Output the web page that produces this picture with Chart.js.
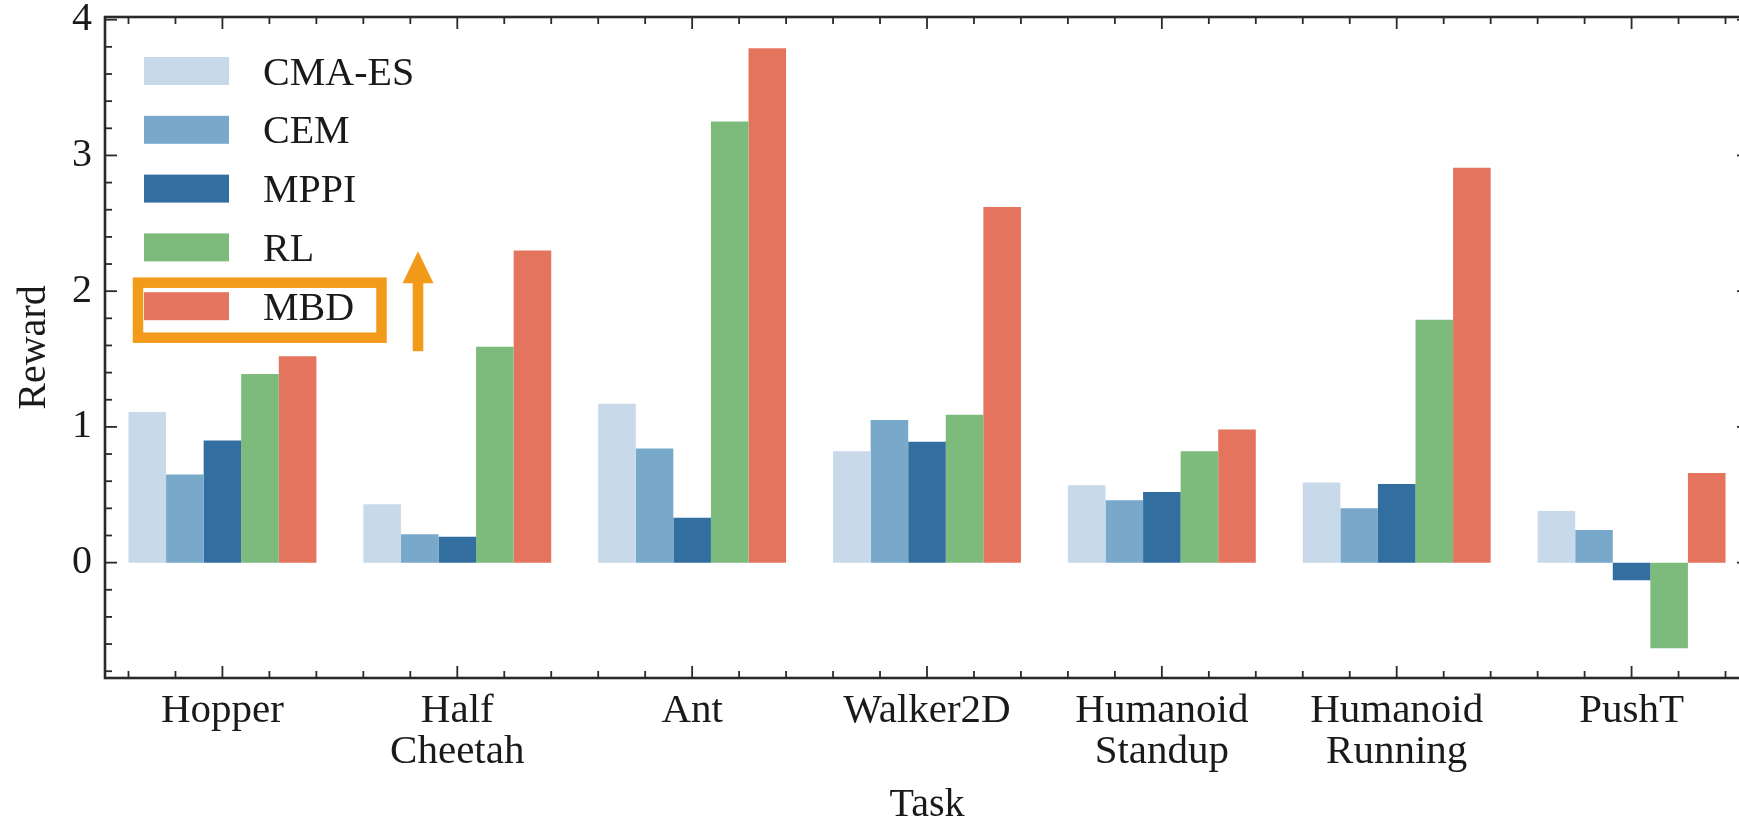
<!DOCTYPE html>
<html>
<head>
<meta charset="utf-8">
<script src="https://cdn.jsdelivr.net/npm/chart.js@4.4.1/dist/chart.umd.min.js"></script>
<style>
  html, body { margin: 0; padding: 0; background: #ffffff; overflow: hidden; }
  #wrap { position: relative; width: 1760px; height: 825px; }
</style>
</head>
<body>
<div id="wrap"><canvas id="chart"></canvas></div>
<script>
// Task categories (multi-line labels as arrays)
const tasks = ['Hopper', ['Half', 'Cheetah'], 'Ant', 'Walker2D', ['Humanoid', 'Standup'], ['Humanoid', 'Running'], 'PushT'];

// Normalised reward per method
const cmaes = [1.11, 0.43, 1.17, 0.82, 0.57, 0.59, 0.38];
const cem   = [0.65, 0.21, 0.84, 1.05, 0.46, 0.40, 0.24];
const mppi  = [0.90, 0.19, 0.33, 0.89, 0.52, 0.58, -0.13];
const rl    = [1.39, 1.59, 3.25, 1.09, 0.82, 1.79, -0.63];
const mbd   = [1.52, 2.30, 3.79, 2.62, 0.98, 2.91, 0.66];

const methodNames = ['CMA-ES', 'CEM', 'MPPI', 'RL', 'MBD'];
const yTickValues = [0, 1, 2, 3, 4];

const colors = ['#c8d9ea', '#78a9ca', '#336ea1', '#7dbb7d', '#e5745f'];
const FONT = '"Liberation Serif", "DejaVu Serif", serif';
const INK = '#1a1a1a';
const HIGHLIGHT = '#f29b1b';

const series = [cmaes, cem, mppi, rl, mbd];
const datasets = series.map((vals, i) => ({
  label: methodNames[i],
  data: vals,
  backgroundColor: colors[i],
  borderWidth: 0,
  categoryPercentage: 0.8,
  barPercentage: 1.0
}));

// Boxed frame with inward major/minor ticks on all four sides
const frameTicks = {
  id: 'frameTicks',
  afterDatasetsDraw(chart) {
    const { ctx, chartArea: a, scales: { x, y } } = chart;
    ctx.save();
    ctx.strokeStyle = '#2a2a2a';
    ctx.lineCap = 'butt';
    ctx.lineWidth = 1.8;
    const tick = (x1, y1, x2, y2) => { ctx.beginPath(); ctx.moveTo(x1, y1); ctx.lineTo(x2, y2); ctx.stroke(); };
    // x ticks: major at categories, minor every 0.2
    for (let k = -2; k <= 32; k++) {
      const v = k / 5;
      if (v < -0.5 || v > tasks.length - 0.5) continue;
      const px = x.getPixelForValue(v);
      const len = (k % 5 === 0) ? 12 : 7;
      tick(px, a.bottom, px, a.bottom - len);
      tick(px, a.top, px, a.top + len);
    }
    // y ticks: major at integers, minor every 0.2
    for (let k = -5; k <= 21; k++) {
      const v = k / 5;
      if (v < y.min || v > y.max) continue;
      const py = y.getPixelForValue(v);
      const len = (k % 5 === 0) ? 12 : 7;
      tick(a.left, py, a.left + len, py);
      tick(a.right, py, a.right - len, py);
    }
    ctx.lineWidth = 2.6;
    ctx.strokeRect(a.left, a.top, a.right - a.left, a.bottom - a.top);
    ctx.restore();
  }
};

// Legend drawn inside the axes, plus the highlight around the MBD entry
const insideLegend = {
  id: 'insideLegend',
  afterDraw(chart) {
    const { ctx, chartArea: a } = chart;
    const patchX = a.left + 39, patchW = 85, patchH = 28;
    const textX = a.left + 158;
    const row0 = a.top + 54, rowGap = 58.8;
    ctx.save();
    ctx.font = '40px ' + FONT;
    ctx.textAlign = 'left';
    ctx.textBaseline = 'alphabetic';
    chart.data.datasets.forEach((ds, i) => {
      const cy = row0 + i * rowGap;
      ctx.fillStyle = ds.backgroundColor;
      ctx.fillRect(patchX, cy - patchH / 2, patchW, patchH);
      ctx.fillStyle = INK;
      ctx.fillText(ds.label, textX, cy + 13.5);
    });
    // highlight box around last entry
    const last = chart.data.datasets.length - 1;
    const cy = row0 + last * rowGap;
    ctx.strokeStyle = HIGHLIGHT;
    ctx.lineWidth = 10.5;
    ctx.strokeRect(patchX - 6, cy - 23.5, 243.5, 55);
    // upward arrow next to it
    const ax = patchX + 274;
    ctx.fillStyle = HIGHLIGHT;
    ctx.fillRect(ax - 5.3, cy - 24, 10.6, 69);
    ctx.beginPath();
    ctx.moveTo(ax, cy - 55);
    ctx.lineTo(ax + 15.5, cy - 23);
    ctx.lineTo(ax - 15.5, cy - 23);
    ctx.closePath();
    ctx.fill();
    ctx.restore();
  }
};

new Chart(document.getElementById('chart'), {
  type: 'bar',
  data: { labels: tasks, datasets },
  options: {
    responsive: true,
    maintainAspectRatio: false,
    animation: false,
    layout: { padding: { top: 17, right: 11, bottom: 0, left: 0 } },
    plugins: { legend: { display: false }, tooltip: { enabled: false } },
    scales: {
      x: {
        type: 'category',
        offset: true,
        grid: { display: false, drawTicks: false },
        border: { display: false },
        ticks: {
          color: INK,
          font: { family: FONT, size: 41, lineHeight: 1.0 },
          padding: 13,
          maxRotation: 0,
          minRotation: 0,
          autoSkip: false
        },
        title: {
          display: true,
          text: 'Task',
          color: INK,
          font: { family: FONT, size: 40, lineHeight: 1.0 },
          padding: { top: 0, bottom: 0 }
        },
        afterFit(s) { s.height = 147; s.paddingLeft = 0; s.paddingRight = 0; }
      },
      y: {
        min: -0.85,
        max: 4.02,
        grid: { display: false, drawTicks: false },
        border: { display: false },
        afterBuildTicks(s) { s.ticks = yTickValues.map(v => ({ value: v })); },
        ticks: {
          color: INK,
          font: { family: FONT, size: 40 },
          padding: 13
        },
        title: {
          display: true,
          text: 'Reward',
          color: INK,
          font: { family: FONT, size: 40, lineHeight: 1.2 },
          padding: { top: 10, bottom: 0 }
        },
        afterFit(s) { s.width = 105; s.paddingTop = 0; s.paddingBottom = 0; }
      }
    }
  },
  plugins: [frameTicks, insideLegend]
});
</script>
</body>
</html>
